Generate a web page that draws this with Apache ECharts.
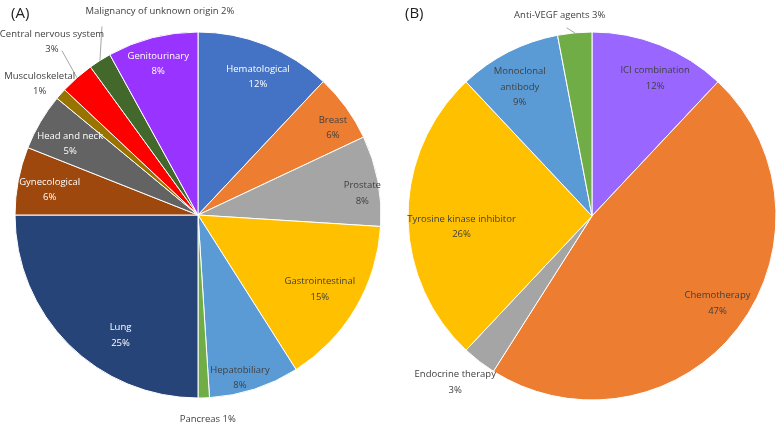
<!DOCTYPE html>
<html><head><meta charset="utf-8">
<script src="https://cdn.jsdelivr.net/npm/echarts@6/dist/echarts.min.js"></script>
<style>html,body{margin:0;padding:0;background:#fff}#c{width:777px;height:424px}</style>
</head><body><div id="c"></div>
<script>
// ---- data ----
const catA = ['Hematological','Breast','Prostate','Gastrointestinal','Hepatobiliary','Pancreas','Lung','Gynecological','Head and neck','Musculoskeletal','Central nervous system','Malignancy of unknown origin','Genitourinary'];
const valA = [12, 6, 8, 15, 8, 1, 25, 6, 5, 1, 3, 2, 8];
const catB = ['ICI combination','Chemotherapy','Endocrine therapy','Tyrosine kinase inhibitor','Monoclonal antibody','Anti-VEGF agents'];
const valB = [12, 47, 3, 26, 9, 3];
const panelLabels = ['(A)', '(B)'];

// ---- styles ----
const colA = ['#4472C4','#ED7D31','#A5A5A5','#FFC000','#5B9BD5','#70AD47','#264478','#9E480E','#636363','#997300','#FF0000','#43682B','#9933FF'];
const colB = ['#9966FF','#ED7D31','#A5A5A5','#FFC000','#5B9BD5','#70AD47'];
const DARK = '#404040', WHITE = '#ffffff';
const FONT = 'Open Sans';

// label placement: dx/dy nudge for inside labels; out = offset from slice edge point; line = leader end offset
const labA = {
  'Hematological': {dx:4, dy:3, c:WHITE},
  'Breast': {dx:12, dy:2, c:DARK},
  'Prostate': {dx:15, dy:7, c:DARK},
  'Gastrointestinal': {dx:-9, dy:-3, c:DARK},
  'Hepatobiliary': {dx:-5, dy:18, c:DARK},
  'Pancreas': {out:[4,21], one:true, c:DARK},
  'Lung': {dx:30, dy:13, c:WHITE},
  'Gynecological': {dx:1, dy:3.5, c:WHITE},
  'Head and neck': {dx:3, dy:6, c:WHITE},
  'Musculoskeletal': {out:[-21,-10], c:DARK},
  'Central nervous system': {out:[-25,-36], line:[-15,-27], c:DARK},
  'Malignancy of unknown origin': {out:[60,-49], line:[2,-34], one:true, c:DARK},
  'Genitourinary': {dx:-2, dy:-4, c:WHITE}
};
const labB = {
  'ICI combination': {dx:7, dy:4, c:DARK},
  'Chemotherapy': {dx:5, dy:-6, c:DARK},
  'Endocrine therapy': {out:[-24,21], c:DARK},
  'Tyrosine kinase inhibitor': {dx:22, dy:11, c:DARK},
  'Monoclonal antibody': {dx:-3, dy:7, c:DARK, text:'Monoclonal\nantibody'},
  'Anti-VEGF agents': {out:[-15,-18], line:[-8,-5], one:true, c:DARK}
};

function sliceData(cats, vals, cols) {
  return cats.map((n, i) => ({name: n, value: vals[i], itemStyle: {color: cols[i]}}));
}
function labelData(cats, vals, cfg) {
  return cats.map((n, i) => {
    const c = cfg[n];
    return {
      name: n, value: vals[i],
      label: {position: c.out ? 'outside' : 'inside', color: c.c},
      labelLine: {show: !!c.out, lineStyle: {opacity: c.line ? 1 : 0}}
    };
  });
}
function makeFormatter(cfg) {
  return p => {
    const c = cfg[p.name];
    const nm = c.text || p.name;
    return c.one ? nm + ' ' + p.value + '%' : nm + '\n' + p.value + '%';
  };
}
function makeLayout(cats, cfg) {
  return p => {
    const c = cfg[cats[p.dataIndex]];
    if (c.out && p.labelLinePoints) {
      const p0 = p.labelLinePoints[0];
      const r = {x: p0[0] + c.out[0], y: p0[1] + c.out[1], align: 'center', verticalAlign: 'middle'};
      if (c.line) r.labelLinePoints = [[p0[0], p0[1]], [p0[0] + c.line[0], p0[1] + c.line[1]]];
      return r;
    }
    return {dx: c.dx || 0, dy: c.dy || 0};
  };
}

function pieSeries(cats, vals, cols, cfg, center, R) {
  return [
    {
      type: 'pie', center: center, radius: [0, R], startAngle: 90, clockwise: true,
      silent: true, animation: false, label: {show: false}, labelLine: {show: false},
      itemStyle: {borderColor: '#ffffff', borderWidth: 1},
      data: sliceData(cats, vals, cols)
    },
    {
      type: 'pie', center: center, radius: [115, R], startAngle: 90, clockwise: true,
      silent: true, animation: false, avoidLabelOverlap: false, z: 5,
      itemStyle: {color: 'rgba(0,0,0,0)', borderWidth: 0},
      label: {show: true, fontFamily: FONT, fontSize: 9.5, lineHeight: 15.5, formatter: makeFormatter(cfg)},
      labelLine: {length: 10, length2: 0, lineStyle: {color: '#a6a6a6', width: 1}},
      labelLayout: makeLayout(cats, cfg),
      data: labelData(cats, vals, cfg)
    }
  ];
}

const chart = echarts.init(document.getElementById('c'), null, {renderer: 'canvas'});
chart.setOption({
  backgroundColor: '#ffffff',
  animation: false,
  title: [
    {text: panelLabels[0], left: 6, top: 1, textStyle: {fontFamily: FONT, fontSize: 15, fontWeight: 'normal', color: '#222'}},
    {text: panelLabels[1], left: 400, top: 1, textStyle: {fontFamily: FONT, fontSize: 15, fontWeight: 'normal', color: '#222'}}
  ],
  series: [
    ...pieSeries(catA, valA, colA, labA, [198, 215], 183),
    ...pieSeries(catB, valB, colB, labB, [592, 216], 184)
  ]
});
</script></body></html>
